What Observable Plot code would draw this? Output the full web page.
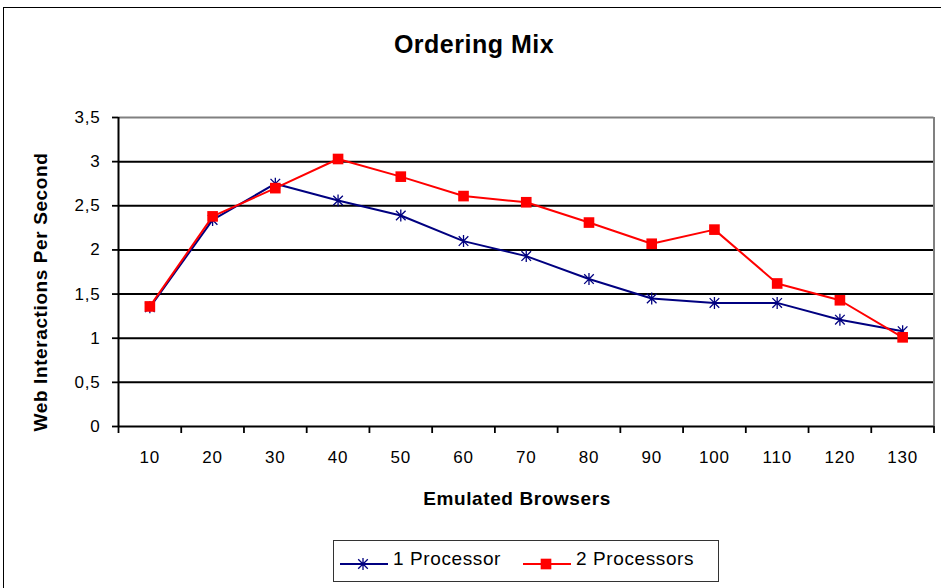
<!DOCTYPE html>
<html><head><meta charset="utf-8">
<script src="https://cdn.jsdelivr.net/npm/d3@7"></script>
<script src="https://cdn.jsdelivr.net/npm/@observablehq/plot@0.6"></script>
<style>
body{margin:0;background:#fff;font-family:"Liberation Sans",Arial,sans-serif;color:#000;}
#wrap{position:relative;width:941px;height:588px;overflow:hidden;background:#fff;}
#chart{position:absolute;left:0;top:0;}
#frame{position:absolute;left:3px;top:7px;width:980px;height:640px;border:1.5px solid #000;pointer-events:none;}
.lbl{position:absolute;white-space:nowrap;font-weight:bold;}
#title{left:474px;top:32px;font-size:25px;line-height:25px;letter-spacing:0.5px;transform:translateX(-50%);}
#xlabel{left:517px;top:489px;font-size:19px;line-height:19px;letter-spacing:0.6px;transform:translateX(-50%);}
#ylabel{left:40px;top:292px;font-size:19px;line-height:19px;letter-spacing:0.6px;transform:translate(-50%,-50%) rotate(-90deg);}
#legend{position:absolute;left:333px;top:540px;width:386px;height:42px;box-sizing:border-box;border:1px solid #333;background:#fff;}
.item{position:absolute;top:0;height:40px;}
.item svg{position:absolute;left:0;top:15px;}
.item span{position:absolute;left:53px;top:8px;font-size:19px;line-height:19px;letter-spacing:0.6px;white-space:nowrap;}
</style></head><body>
<div id="wrap">
  <div id="chart"></div>
  <div id="frame"></div>
  <div id="title" class="lbl">Ordering Mix</div>
  <div id="ylabel" class="lbl">Web Interactions Per Second</div>
  <div id="xlabel" class="lbl">Emulated Browsers</div>
  <div id="legend"></div>
</div>
<script>
// ---- data ----
const browsers = [10, 20, 30, 40, 50, 60, 70, 80, 90, 100, 110, 120, 130];
const oneProcessor = [1.35, 2.34, 2.75, 2.56, 2.39, 2.10, 1.93, 1.67, 1.45, 1.40, 1.40, 1.21, 1.08];
const twoProcessors = [1.36, 2.38, 2.70, 3.03, 2.83, 2.61, 2.54, 2.31, 2.07, 2.23, 1.62, 1.43, 1.01];
const seriesNames = ["1 Processor", "2 Processors"];
const yTicks = [0, 0.5, 1, 1.5, 2, 2.5, 3, 3.5];

// ---- derived ----
const step = browsers[1] - browsers[0];
const xDomain = [browsers[0] - step / 2, browsers[browsers.length - 1] + step / 2];
const xBounds = browsers.map(b => b - step / 2).concat([xDomain[1]]);
const data1 = browsers.map((b, i) => ({x: b, y: oneProcessor[i]}));
const data2 = browsers.map((b, i) => ({x: b, y: twoProcessors[i]}));
const yMax = yTicks[yTicks.length - 1];
const gridTicks = yTicks.filter(t => t > 0 && t < yMax);

const BLUE = "#000080", RED = "#ff0000";
const asteriskSymbol = {
  draw(ctx, size) {
    const r = Math.sqrt(size / Math.PI);
    const d = r * 0.8;
    ctx.moveTo(0, -r); ctx.lineTo(0, r);
    ctx.moveTo(-d, -d); ctx.lineTo(d, d);
    ctx.moveTo(-d, d); ctx.lineTo(d, -d);
  }
};
const fmt = d => String(d).replace(".", ",");

const chart = Plot.plot({
  width: 941,
  height: 588,
  marginLeft: 118,
  marginRight: 7.5,
  marginTop: 117,
  marginBottom: 162,
  style: {fontSize: "17px", fontFamily: "'Liberation Sans', Arial, sans-serif", background: "none", color: "#000", letterSpacing: "0.8px"},
  x: {type: "linear", domain: xDomain, label: null},
  y: {domain: [0, yMax], label: null},
  marks: [
    Plot.ruleY(gridTicks, {stroke: "#000", strokeWidth: 2}),
    Plot.ruleY([yMax], {stroke: "#808080", strokeWidth: 2}),
    Plot.ruleX([xDomain[1]], {y1: 0, y2: yMax, stroke: "#808080", strokeWidth: 2}),
    Plot.axisY(yTicks, {tickSize: 6, tickPadding: 12, tickFormat: fmt, strokeWidth: 1.8, label: null}),
    Plot.axisX(browsers, {tickSize: 0, tickPadding: 24, tickFormat: d => String(d), label: null}),
    Plot.axisX(xBounds, {tickSize: 7, tickFormat: () => "", strokeWidth: 1.8, label: null}),
    Plot.ruleX([xDomain[0]], {y1: 0, y2: yMax, stroke: "#000", strokeWidth: 2}),
    Plot.ruleY([0], {stroke: "#000", strokeWidth: 2}),
    Plot.line(data1, {x: "x", y: "y", stroke: BLUE, strokeWidth: 2}),
    Plot.dot(data1, {x: "x", y: "y", symbol: asteriskSymbol, r: 6, stroke: BLUE, strokeWidth: 1.3, fill: "none"}),
    Plot.line(data2, {x: "x", y: "y", stroke: RED, strokeWidth: 2}),
    Plot.dot(data2, {x: "x", y: "y", symbol: "square", r: 6, fill: RED, stroke: "none"})
  ]
});
document.getElementById("chart").appendChild(chart);

// ---- legend ----
const legend = d3.select("#legend");
const items = [
  {name: seriesNames[0], color: BLUE, sym: asteriskSymbol, left: 6, star: true},
  {name: seriesNames[1], color: RED, sym: d3.symbolSquare, left: 189, star: false}
];
items.forEach(it => {
  const g = legend.append("div").attr("class", "item").style("left", it.left + "px");
  const s = g.append("svg").attr("width", 48).attr("height", 16);
  s.append("line").attr("x1", 0).attr("x2", 48).attr("y1", 8).attr("y2", 8)
    .attr("stroke", it.color).attr("stroke-width", 2);
  s.append("path").attr("transform", "translate(23,8)")
    .attr("d", d3.symbol(it.sym, Math.PI * 36)())
    .attr("fill", it.star ? "none" : it.color)
    .attr("stroke", it.star ? it.color : "none")
    .attr("stroke-width", 1.3);
  g.append("span").text(it.name);
});
</script>
</body></html>
